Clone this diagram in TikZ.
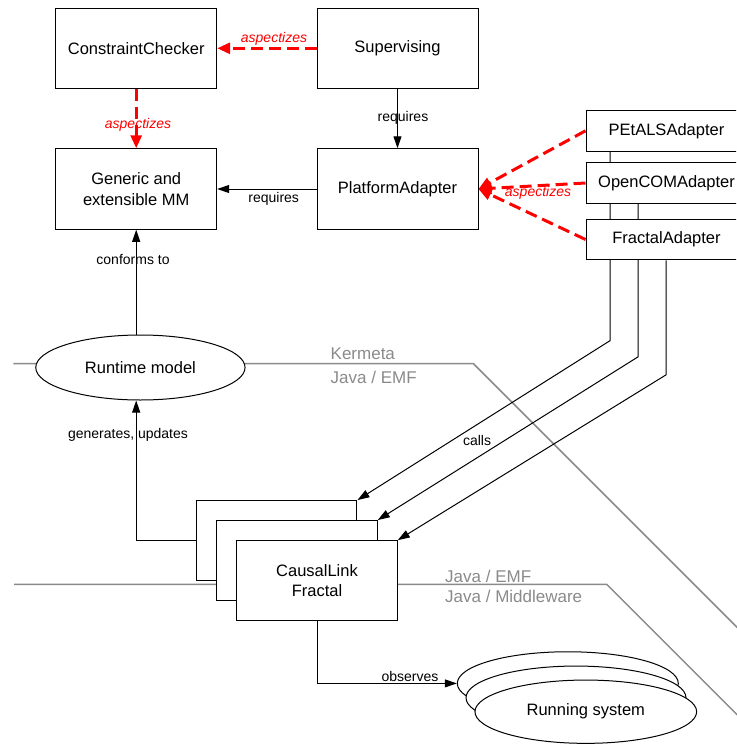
\documentclass[tikz,border=0pt]{standalone}
\usepackage{fontspec}
\setmainfont{Liberation Sans}
\usetikzlibrary{arrows.meta,shapes.geometric}
\pgfdeclarelayer{bg}
\pgfsetlayers{bg,main}
\definecolor{lgray}{RGB}{138,138,138}
\definecolor{ared}{RGB}{255,0,0}
\begin{document}
\begin{tikzpicture}[x=1pt,y=-1pt,
  box/.style={draw, line width=1pt, fill=white, minimum width=161pt, minimum height=80.5pt, inner sep=0pt, align=center, font=\fontsize{16.5}{20.5}\selectfont},
  abox/.style={box, minimum height=40.5pt},
  oval/.style={draw, line width=1pt, fill=white, ellipse, inner sep=0pt, font=\fontsize{16.5}{20.5}\selectfont},
  arr/.style={draw, line width=1pt, -{Triangle[length=12pt,width=8pt]}},
  plain/.style={draw, line width=1pt},
  asp/.style={draw=ared, line width=3pt, dash pattern=on 12pt off 6pt, -{Triangle[length=13pt,width=11pt]}},
  asplbl/.style={text=ared, font=\fontsize{14}{16}\selectfont\itshape, inner sep=0pt},
  lbl/.style={font=\fontsize{14}{16}\selectfont, inner sep=0pt},
  glbl/.style={text=lgray, font=\fontsize{17}{19}\selectfont, inner sep=0pt, anchor=west},
  gline/.style={draw=lgray, line width=1.5pt}
]
\useasboundingbox (0,0) rectangle (736,744);
\clip (0,0) rectangle (736,744);

% gray layer boundaries
\coordinate (g1s) at (13.3,363.5);
\coordinate (g1b) at (473.3,363.5);
\coordinate (g1e) at (873.3,763.5);
\coordinate (g2s) at (14,584.3);
\coordinate (g2b) at (606.7,584.3);
\coordinate (g2e) at (806.7,784.3);
\begin{pgfonlayer}{bg}
\path[gline] (g1s) -- (g1b) -- (g1e);
\path[gline] (g2s) -- (g2b) -- (g2e);
\end{pgfonlayer}

% nodes
\node[box] (cc) at (136.2,48.5) {ConstraintChecker};
\node[box] (sup) at (397.5,48.3) {Supervising};
\node[box] (gen) at (136.2,189) {Generic and\\extensible MM};
\node[box] (pa) at (397.5,189) {PlatformAdapter};
\node[abox] (petals) at (666.5,130.8) {PEtALSAdapter};
\node[abox] (opencom) at (666.5,183) {OpenCOMAdapter};
\node[abox] (fractal) at (666.5,239.5) {FractalAdapter};
\node[oval, minimum width=209.3pt, minimum height=65pt] (rt) at (140.4,367.5) {Runtime model};
\node[box, minimum width=160.5pt, minimum height=80.3pt] (cl1) at (276.7,540.7) {};
\node[box, minimum width=160.5pt, minimum height=80.3pt] (cl2) at (297,560.7) {};
\node[box, minimum width=160.5pt, minimum height=80.3pt] (cl3) at (317,580.8) {CausalLink\\Fractal};
\node[oval, minimum width=221pt, minimum height=63.3pt] (rs1) at (567.8,683.4) {};
\node[oval, minimum width=220pt, minimum height=63.3pt] (rs2) at (576,697.7) {};
\node[oval, minimum width=221.7pt, minimum height=63.3pt] (rs3) at (585.8,711.7) {Running system};

% gray layer labels
\node[glbl] (kerm) at (330.5,353.3) {Kermeta};
\node[glbl] (jemf1) at (330.5,377.7) {Java / EMF};
\node[glbl] (jemf2) at (445,576.7) {Java / EMF};
\node[glbl] (jmid) at (445,596.7) {Java / Middleware};

% red aspectizes arrows
\path[asp] (sup.west) -- (sup.west -| cc.east);
\node[asplbl] (a1) at (274,38.5) {aspectizes};
\path[asp] (cc.south) -- (gen.north);
\node[asplbl] (a2) at (138,125) {aspectizes};
\path[asp] (petals.west) -- (pa.east);
\path[asp] (opencom.west) -- (pa.east);
\path[asp] (fractal.west) -- (pa.east);
\node[asplbl] (a3) at (538,193) {aspectizes};

% black connectors
\path[arr] (sup.south) -- (pa.north);
\node[lbl] (r1) at (403,118) {requires};
\path[arr] (pa.west) -- (gen.east);
\node[lbl] (r2) at (273.7,199.3) {requires};
\path[arr] (rt.north -| gen.south) -- (gen.south);
\node[lbl] (conf) at (133,259.5) {conforms to};
\path[arr] (cl1.west) -| (rt.south -| gen.south);
\node[lbl] (genu) at (128,435) {generates, updates};
\path[arr] (cl3.south) |- (rs1.west);
\node[lbl] (obs) at (410,676) {observes};

% calls
\begin{pgfonlayer}{bg}
\path[arr] ([xshift=24.7pt]petals.south west) -- ++(0,189) -- (cl1.north east);
\path[arr] ([xshift=52.7pt]opencom.south west) -- ++(0,153) -- (cl2.north east);
\path[arr] ([xshift=80.7pt]fractal.south west) -- ++(0,114.5) -- (cl3.north east);
\end{pgfonlayer}
\node[lbl] (calls) at (477,440) {calls};
\end{tikzpicture}
\end{document}
